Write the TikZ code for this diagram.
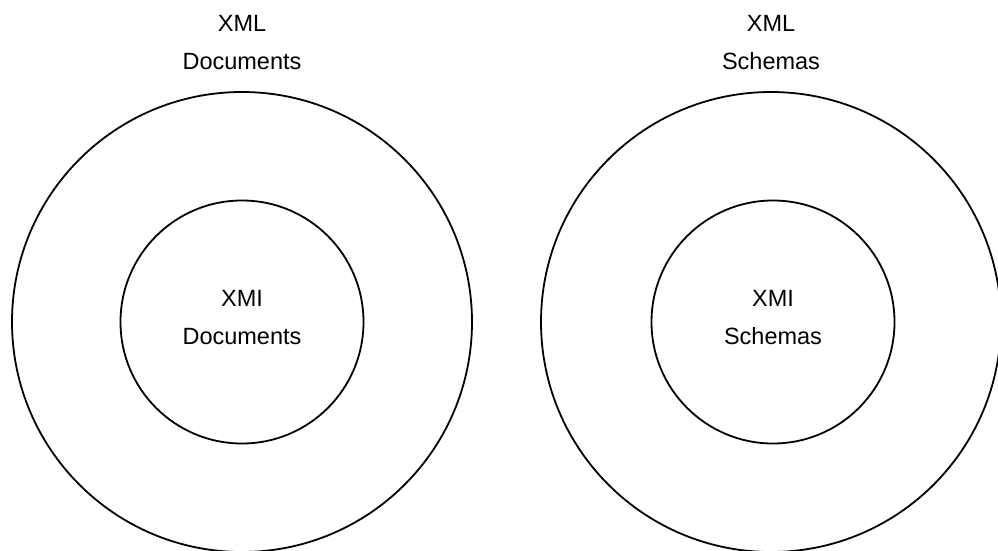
\documentclass[tikz,border=0pt]{standalone}
\usepackage{fontspec}
\setmainfont{Liberation Sans}
\usetikzlibrary{positioning}
\tikzstyle{outerset} = [draw, circle, line width=1.8pt, minimum size=460pt, inner sep=0pt]
\tikzstyle{innerset} = [draw, circle, line width=1.8pt, minimum size=243pt, inner sep=0pt]
\tikzstyle{settitle} = [anchor=base, inner sep=0pt, font=\fontsize{23.5}{28}\selectfont]

\begin{document}
\begin{tikzpicture}[x=1pt, y=-1pt]
	\useasboundingbox (0,0) rectangle (998,551);
	% left pair
	\node [outerset] (xmldoc) at (242,322) {};
	\node [innerset] (xmidoc) at (242,322) {};
	\node [settitle] (xmldoctop) at ([yshift=60pt]xmldoc.north) {XML};
	\node [settitle] (xmldocbot) at ([yshift=22pt]xmldoc.north) {Documents};
	\node [settitle] (xmidoctop) at ([yshift=16pt]xmidoc.center) {XMI};
	\node [settitle] (xmidocbot) at ([yshift=-22pt]xmidoc.center) {Documents};
	% right pair
	\node [outerset] (xmlsch) at (771,322) {};
	\node [innerset] (xmisch) at (773,322) {};
	\node [settitle] (xmlschtop) at ([yshift=60pt]xmlsch.north) {XML};
	\node [settitle] (xmlschbot) at ([yshift=22pt]xmlsch.north) {Schemas};
	\node [settitle] (xmischtop) at ([yshift=16pt]xmisch.center) {XMI};
	\node [settitle] (xmischbot) at ([yshift=-22pt]xmisch.center) {Schemas};
\end{tikzpicture}
\end{document}
